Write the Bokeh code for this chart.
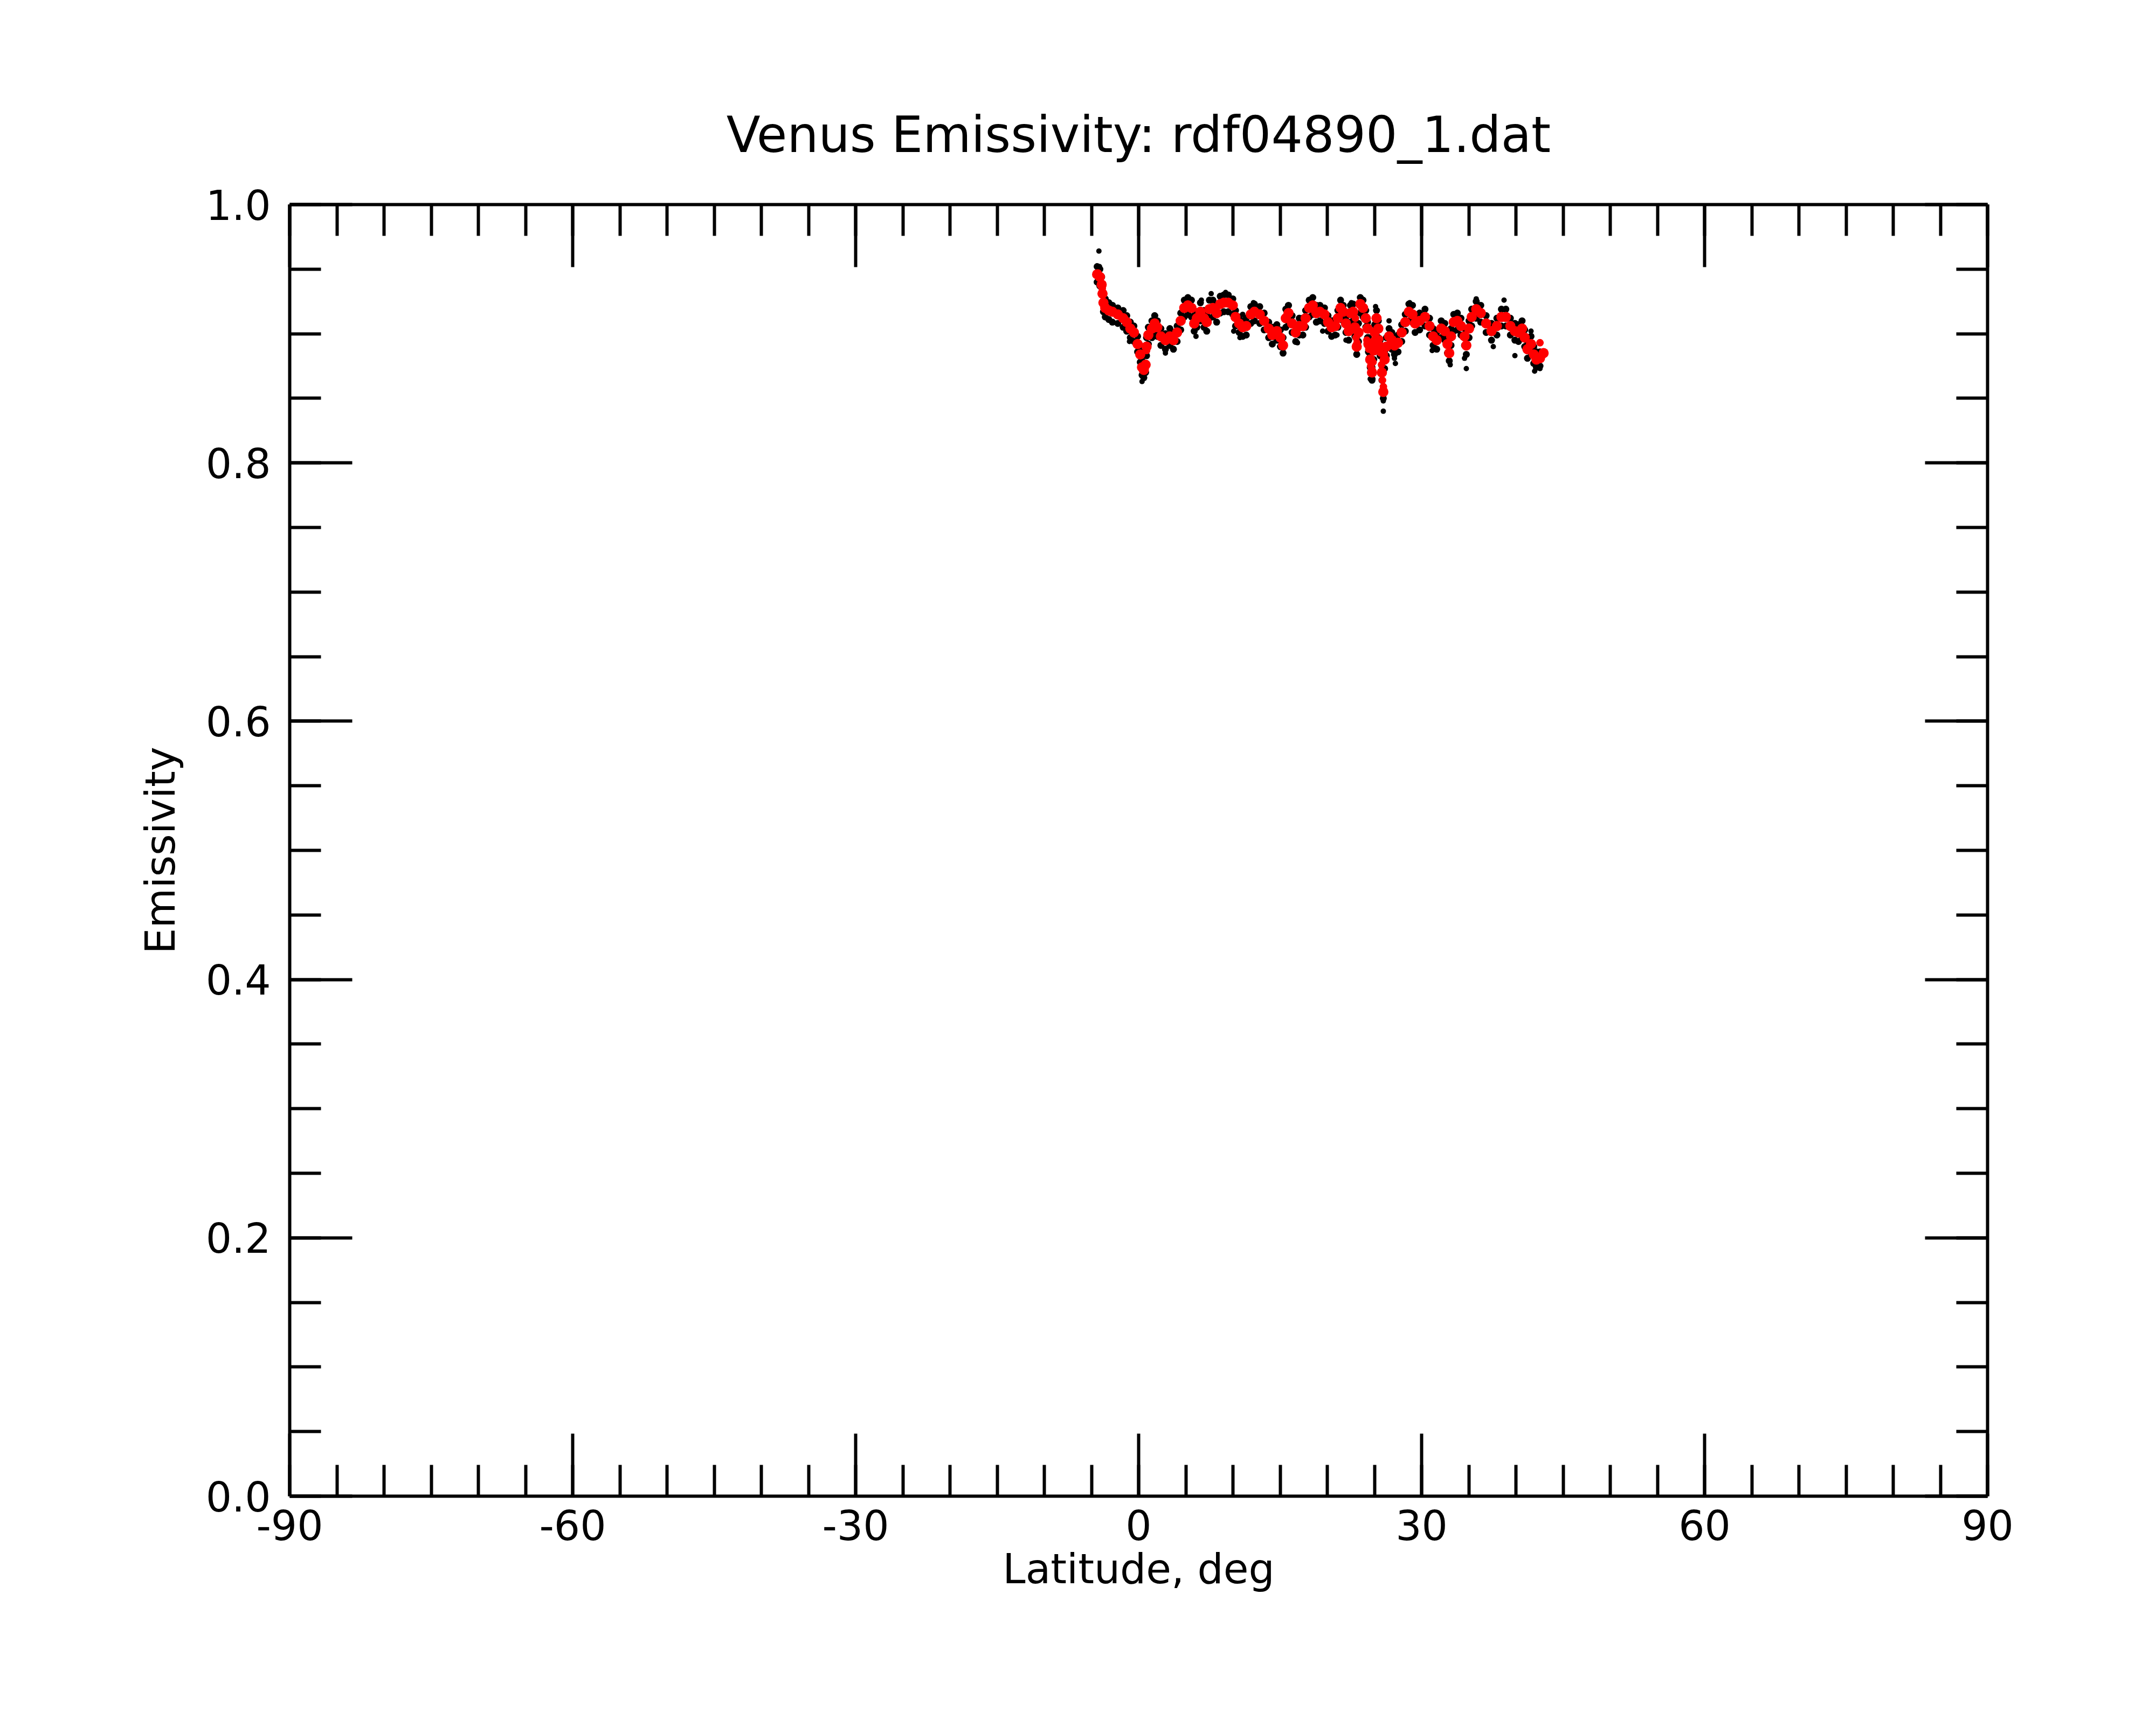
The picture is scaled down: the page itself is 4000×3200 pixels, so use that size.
from bokeh.plotting import figure
from bokeh.models import Range1d, LinearAxis, FixedTicker, ColumnDataSource
from bokeh.embed import file_html
from bokeh.resources import INLINE

# ---------------- data ----------------
title_text = "Venus Emissivity: rdf04890_1.dat"
x_label = "Latitude, deg"
y_label = "Emissivity"

x_ticks = [-90, -60, -30, 0, 30, 60, 90]
x_tick_labels = {-90: "-90", -60: "-60", -30: "-30", 0: "0", 30: "30", 60: "60", 90: "90"}
x_minor = list(range(-90, 91, 5))
y_ticks = [0.0, 0.2, 0.4, 0.6, 0.8, 1.0]
y_minor = [round(0.05 * i, 2) for i in range(21)]
y_tick_labels = {0.0: "0.0", 0.2: "0.2", 0.4: "0.4", 0.6: "0.6", 0.8: "0.8", 1.0: "1.0"}

# smoothed series (red)
red_lat = [-4.40, -4.11, -3.92, -3.83, -3.73, -3.54, -3.16, -2.78, -2.21, -1.64,
           -1.26, -0.88, -0.50, -0.11, 0.17, 0.36, 0.55, 0.74, 0.84, 1.03,
           1.41, 1.70, 1.98, 2.36, 2.84, 3.31, 3.69, 4.08, 4.46, 4.84,
           5.22, 5.60, 5.89, 6.17, 6.55, 6.93, 7.22, 7.50, 7.88, 8.27,
           8.65, 9.03, 9.50, 9.98, 10.27, 10.65, 11.03, 11.41, 11.89, 12.27,
           12.84, 13.31, 13.79, 14.17, 14.65, 15.03, 15.31, 15.60, 15.89, 16.27,
           16.65, 17.03, 17.41, 17.70, 18.08, 18.46, 18.84, 19.22, 19.70, 20.08,
           20.46, 20.84, 21.12, 21.41, 21.69, 21.98, 22.27, 22.46, 22.74, 22.93,
           23.12, 23.31, 23.50, 23.79, 24.08, 24.27, 24.36, 24.55, 24.74, 24.93,
           25.03, 25.22, 25.41, 25.60, 25.79, 25.94, 26.08, 26.27, 26.55, 26.84,
           27.12, 27.50, 27.89, 28.27, 28.65, 29.03, 29.31, 29.79, 30.36, 30.84,
           31.22, 31.60, 32.08, 32.46, 32.74, 32.93, 33.12, 33.41, 33.79, 34.17,
           34.55, 34.74, 35.03, 35.31, 35.79, 36.27, 36.84, 37.41, 37.98, 38.46,
           38.93, 39.41, 39.89, 40.27, 40.65, 40.93, 41.22, 41.60, 41.89, 42.17,
           42.55, 42.93]
red_val = [0.946, 0.944, 0.938, 0.931, 0.924, 0.920, 0.918, 0.917, 0.915, 0.912,
           0.909, 0.904, 0.901, 0.892, 0.884, 0.874, 0.872, 0.876, 0.890, 0.899,
           0.904, 0.908, 0.905, 0.898, 0.895, 0.898, 0.895, 0.901, 0.910, 0.920,
           0.922, 0.920, 0.908, 0.912, 0.917, 0.912, 0.909, 0.919, 0.920, 0.916,
           0.923, 0.924, 0.924, 0.922, 0.913, 0.908, 0.905, 0.906, 0.915, 0.917,
           0.915, 0.910, 0.904, 0.899, 0.902, 0.897, 0.891, 0.912, 0.916, 0.908,
           0.901, 0.906, 0.906, 0.912, 0.920, 0.922, 0.916, 0.917, 0.915, 0.909,
           0.905, 0.906, 0.912, 0.920, 0.917, 0.908, 0.902, 0.916, 0.917, 0.905,
           0.890, 0.901, 0.923, 0.920, 0.912, 0.904, 0.892, 0.880, 0.870, 0.887,
           0.901, 0.912, 0.904, 0.890, 0.870, 0.855, 0.880, 0.890, 0.898, 0.895,
           0.891, 0.893, 0.901, 0.909, 0.917, 0.915, 0.908, 0.910, 0.913, 0.906,
           0.898, 0.895, 0.904, 0.902, 0.892, 0.885, 0.898, 0.909, 0.910, 0.906,
           0.898, 0.891, 0.904, 0.913, 0.919, 0.916, 0.908, 0.902, 0.906, 0.913,
           0.913, 0.906, 0.902, 0.901, 0.904, 0.897, 0.888, 0.892, 0.884, 0.880,
           0.881, 0.885]

# scattered smoothed points in the dips (red)
red_extra_lat = [22.98, 23.05, 23.15, 24.20, 24.40, 24.60, 24.70, 24.85, 24.95, 25.05,
                 25.55, 25.65, 25.75, 25.85, 25.95, 26.05, 0.84, 42.55, -4.30, -3.86]
red_extra_val = [0.912, 0.897, 0.893, 0.895, 0.888, 0.875, 0.873, 0.878, 0.895, 0.893,
                 0.896, 0.885, 0.876, 0.864, 0.859, 0.884, 0.887, 0.893, 0.947, 0.935]

# raw measurements (black): upper and lower edge of the cloud at the same latitudes
black_hi = [0.952, 0.950, 0.944, 0.937, 0.930, 0.927, 0.924, 0.922, 0.920, 0.918,
            0.914, 0.909, 0.906, 0.898, 0.889, 0.879, 0.877, 0.884, 0.897, 0.905,
            0.910, 0.914, 0.910, 0.904, 0.900, 0.904, 0.901, 0.906, 0.916, 0.926,
            0.928, 0.926, 0.914, 0.917, 0.924, 0.918, 0.915, 0.926, 0.926, 0.922,
            0.929, 0.930, 0.930, 0.927, 0.918, 0.913, 0.910, 0.912, 0.921, 0.923,
            0.921, 0.916, 0.909, 0.905, 0.907, 0.903, 0.897, 0.919, 0.922, 0.914,
            0.907, 0.912, 0.912, 0.918, 0.926, 0.928, 0.922, 0.922, 0.920, 0.914,
            0.910, 0.911, 0.918, 0.926, 0.922, 0.913, 0.908, 0.922, 0.923, 0.911,
            0.896, 0.908, 0.928, 0.926, 0.918, 0.909, 0.897, 0.884, 0.874, 0.893,
            0.907, 0.918, 0.910, 0.895, 0.875, 0.859, 0.887, 0.897, 0.904, 0.901,
            0.897, 0.899, 0.907, 0.915, 0.923, 0.922, 0.914, 0.916, 0.919, 0.912,
            0.904, 0.901, 0.910, 0.908, 0.898, 0.891, 0.904, 0.915, 0.916, 0.912,
            0.904, 0.897, 0.910, 0.919, 0.925, 0.922, 0.914, 0.908, 0.912, 0.919,
            0.919, 0.912, 0.908, 0.907, 0.910, 0.903, 0.894, 0.898, 0.890, 0.886,
            0.886, 0.884]
black_lo = [0.940, 0.937, 0.931, 0.924, 0.917, 0.913, 0.911, 0.909, 0.908, 0.905,
            0.902, 0.897, 0.894, 0.886, 0.878, 0.868, 0.866, 0.870, 0.883, 0.892,
            0.897, 0.901, 0.898, 0.891, 0.888, 0.891, 0.888, 0.894, 0.903, 0.913,
            0.915, 0.913, 0.902, 0.905, 0.910, 0.905, 0.902, 0.912, 0.913, 0.909,
            0.916, 0.917, 0.917, 0.915, 0.906, 0.901, 0.898, 0.899, 0.908, 0.910,
            0.908, 0.903, 0.897, 0.892, 0.895, 0.890, 0.885, 0.905, 0.909, 0.901,
            0.894, 0.899, 0.899, 0.905, 0.913, 0.915, 0.909, 0.910, 0.908, 0.902,
            0.898, 0.899, 0.905, 0.913, 0.910, 0.901, 0.895, 0.909, 0.910, 0.898,
            0.884, 0.894, 0.916, 0.913, 0.905, 0.897, 0.886, 0.874, 0.864, 0.880,
            0.894, 0.905, 0.897, 0.883, 0.864, 0.850, 0.873, 0.883, 0.891, 0.888,
            0.884, 0.886, 0.894, 0.902, 0.910, 0.909, 0.901, 0.903, 0.906, 0.899,
            0.891, 0.888, 0.897, 0.895, 0.885, 0.879, 0.891, 0.902, 0.903, 0.899,
            0.891, 0.884, 0.897, 0.906, 0.912, 0.909, 0.901, 0.895, 0.899, 0.906,
            0.906, 0.899, 0.895, 0.894, 0.897, 0.890, 0.881, 0.885, 0.877, 0.874,
            0.875, 0.884]

# isolated raw measurements (black)
black_out_lat = [-4.21, -4.15, -0.97, 0.36, 0.40, 2.84, 1.79, 6.08, 6.65, 7.69,
                 9.22, 10.08, 11.03, 10.74, 12.17, 15.31, 15.79, 16.84, 18.36, 19.51,
                 21.03, 21.41, 21.98, 22.55, 23.12, 23.60, 24.55, 24.84, 25.12, 25.94,
                 25.94, 26.55, 27.22, 27.12, 28.74, 31.12, 33.03, 34.55, 34.74, 35.79,
                 37.60, 38.74, 39.89, 41.60, 41.98, 42.55]
black_out_val = [0.964, 0.952, 0.894, 0.863, 0.867, 0.885, 0.914, 0.898, 0.926, 0.931,
                 0.932, 0.902, 0.915, 0.897, 0.924, 0.888, 0.922, 0.893, 0.927, 0.902,
                 0.899, 0.922, 0.895, 0.924, 0.885, 0.927, 0.865, 0.865, 0.921, 0.848,
                 0.840, 0.910, 0.877, 0.881, 0.924, 0.887, 0.876, 0.881, 0.873, 0.927,
                 0.890, 0.926, 0.883, 0.902, 0.871, 0.873]

# ---------------- figure ----------------
FONT = "DejaVu Sans"
TICK_FS = "76px"
LABEL_FS = "76px"

p = figure(frame_width=3150, frame_height=2396,
           x_range=Range1d(-90, 90), y_range=Range1d(0, 1),
           output_backend="svg", toolbar_location=None,
           min_border_left=537, min_border_right=297,
           min_border_top=379, min_border_bottom=409)
p.background_fill_color = "white"
p.border_fill_color = "white"
p.outline_line_color = None
p.xgrid.grid_line_color = None
p.ygrid.grid_line_color = None

p.title.text = title_text
p.title.text_font = FONT
p.title.text_font_size = "92px"
p.title.text_font_style = "normal"
p.title.align = "center"
p.title.text_color = "black"
p.title.standoff = 152


def style_axis(ax, ticks, minor, show_labels):
    ax.ticker = FixedTicker(ticks=ticks, minor_ticks=minor)
    ax.axis_line_color = "black"
    ax.axis_line_width = 6
    ax.major_tick_line_color = "black"
    ax.major_tick_line_width = 6
    ax.minor_tick_line_color = "black"
    ax.minor_tick_line_width = 6
    ax.major_tick_in = 116
    ax.major_tick_out = 0
    ax.minor_tick_in = 58
    ax.minor_tick_out = 0
    ax.major_label_text_font = FONT
    ax.major_label_text_font_size = TICK_FS
    ax.major_label_text_color = "black"
    ax.axis_label_text_font = FONT
    ax.axis_label_text_font_size = LABEL_FS
    ax.axis_label_text_font_style = "normal"
    ax.axis_label_text_color = "black"
    if not show_labels:
        ax.major_label_overrides = {t: "" for t in ticks}
        ax.major_label_standoff = 0


xax = p.xaxis[0]
style_axis(xax, x_ticks, x_minor, True)
xax.major_label_overrides = x_tick_labels
xax.axis_label = x_label
xax.major_label_standoff = 25
xax.axis_label_standoff = 6

yax = p.yaxis[0]
style_axis(yax, y_ticks, y_minor, True)
yax.major_label_overrides = y_tick_labels
yax.axis_label = y_label
yax.major_label_standoff = 35
yax.axis_label_standoff = 37

top_ax = LinearAxis()
style_axis(top_ax, x_ticks, x_minor, False)
p.add_layout(top_ax, "above")

right_ax = LinearAxis()
style_axis(right_ax, y_ticks, y_minor, False)
p.add_layout(right_ax, "right")

# raw data: black
black_src_hi = ColumnDataSource(dict(x=red_lat, y=black_hi))
black_src_lo = ColumnDataSource(dict(x=red_lat, y=black_lo))
black_src_out = ColumnDataSource(dict(x=black_out_lat, y=black_out_val))
for src in (black_src_hi, black_src_lo):
    p.scatter("x", "y", source=src, size=13, marker="circle",
              fill_color="black", line_color="black", line_width=0)
p.scatter("x", "y", source=black_src_out, size=10, marker="circle",
          fill_color="black", line_color="black", line_width=0)

# smoothed: red
red_src = ColumnDataSource(dict(x=red_lat, y=red_val))
red_src2 = ColumnDataSource(dict(x=red_extra_lat, y=red_extra_val))
p.scatter("x", "y", source=red_src, size=19, marker="circle",
          fill_color="#ff0000", line_color="#ff0000", line_width=0)
p.scatter("x", "y", source=red_src2, size=14, marker="circle",
          fill_color="#ff0000", line_color="#ff0000", line_width=0)

open("out.html", "w").write(file_html(p, INLINE))
